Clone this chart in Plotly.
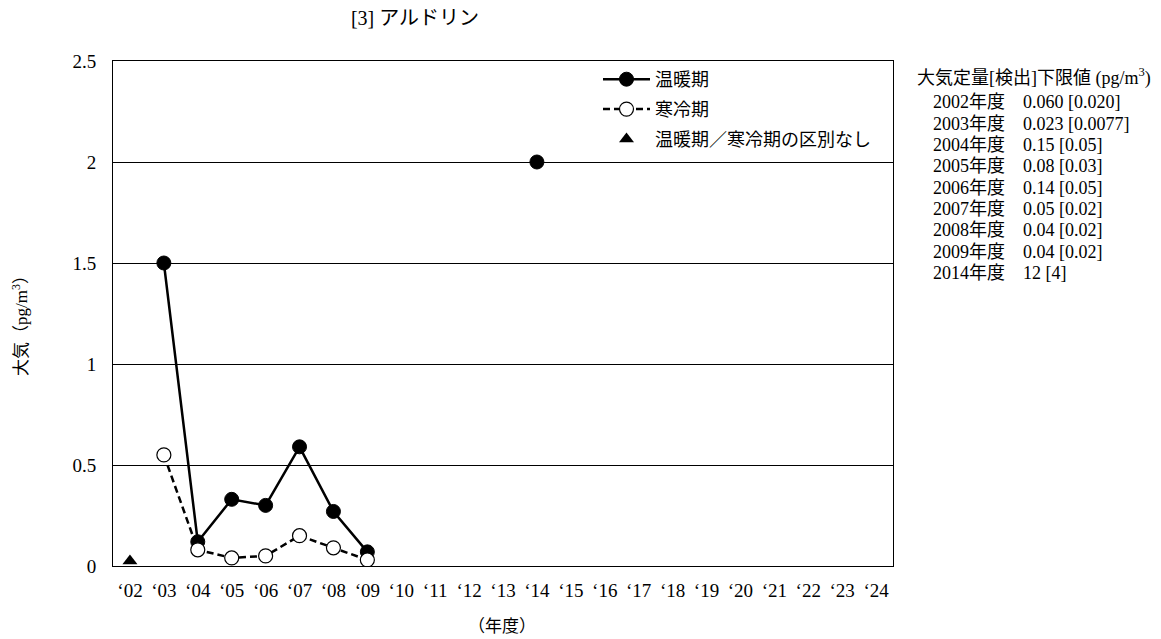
import plotly.graph_objects as go

categories = ["‘02", "‘03", "‘04", "‘05", "‘06", "‘07", "‘08", "‘09", "‘10", "‘11", "‘12",
              "‘13", "‘14", "‘15", "‘16", "‘17", "‘18", "‘19", "‘20", "‘21", "‘22", "‘23", "‘24"]

warm_x = ["‘03", "‘04", "‘05", "‘06", "‘07", "‘08", "‘09", "‘14"]
warm_y = [1.5, 0.12, 0.33, 0.30, 0.59, 0.27, 0.07, 2.0]

cold_x = ["‘03", "‘04", "‘05", "‘06", "‘07", "‘08", "‘09"]
cold_y = [0.55, 0.08, 0.04, 0.05, 0.15, 0.09, 0.03]

nodist_x = ["‘02"]
nodist_y = [0.025]

limit_header = "大気定量[検出]下限値 (pg/m<sup>3</sup>)"
limit_lines = [
    "2002年度　0.060 [0.020]",
    "2003年度　0.023 [0.0077]",
    "2004年度　0.15 [0.05]",
    "2005年度　0.08 [0.03]",
    "2006年度　0.14 [0.05]",
    "2007年度　0.05 [0.02]",
    "2008年度　0.04 [0.02]",
    "2009年度　0.04 [0.02]",
    "2014年度　12 [4]",
]

FONT = "Liberation Serif, Noto Sans CJK JP, serif"

# page body has an 8px margin: screen = figure + 8
PL, PT, PW, PH = 105, 53, 780, 505
W, H = 1161, 639


def py(screen_y):
    return (PT + PH + 8 - screen_y) / PH


def px(screen_x):
    return (screen_x - 8 - PL) / PW


fig = go.Figure()
fig.add_trace(go.Scatter(
    x=warm_x[:7], y=warm_y[:7], mode="lines+markers", name="温暖期",
    line=dict(color="black", width=2.5),
    marker=dict(symbol="circle", size=14, color="black", line=dict(color="black", width=1)),
    legendgroup="warm",
))
fig.add_trace(go.Scatter(
    x=warm_x[7:], y=warm_y[7:], mode="markers", name="温暖期", showlegend=False,
    marker=dict(symbol="circle", size=14, color="black", line=dict(color="black", width=1)),
    legendgroup="warm",
))
fig.add_trace(go.Scatter(
    x=cold_x, y=cold_y, mode="lines+markers", name="寒冷期",
    line=dict(color="black", width=2.5, dash="7px,4px"),
    marker=dict(symbol="circle", size=14, color="white", line=dict(color="black", width=1.2)),
    legendgroup="cold",
))
fig.add_trace(go.Scatter(
    x=nodist_x, y=nodist_y, mode="markers", name="温暖期／寒冷期の区別なし",
    marker=dict(symbol="triangle-up", size=13, color="black"),
    legendgroup="nd",
))

fig.update_layout(
    width=W, height=H,
    paper_bgcolor="white", plot_bgcolor="white",
    margin=dict(l=PL, r=W - PL - PW, t=PT, b=H - PT - PH),
    font=dict(family=FONT, size=18, color="black"),
    title=dict(text="[3] アルドリン", x=(415 - 8) / W, xanchor="center",
               y=1 - (18 - 8) / H, yanchor="middle",
               font=dict(size=20, family=FONT)),
    legend=dict(x=px(598), y=py(61), xanchor="left", yanchor="top", bgcolor="rgba(0,0,0,0)",
                font=dict(size=18, family=FONT), tracegroupgap=3.5, itemwidth=47),
    showlegend=True,
)
fig.update_xaxes(
    type="category", categoryorder="array", categoryarray=categories,
    range=[-0.5, len(categories) - 0.5],
    showline=True, linecolor="black", linewidth=1, mirror=True,
    showgrid=False, ticks="", tickfont=dict(size=19, family=FONT), ticklabelstandoff=7,
)
fig.update_yaxes(
    range=[0, 2.5], tickvals=[0, 0.5, 1, 1.5, 2, 2.5],
    ticktext=["0", "0.5", "1", "1.5", "2", "2.5"],
    showline=True, linecolor="black", linewidth=1, mirror=True,
    showgrid=True, gridcolor="black", gridwidth=1, zeroline=False,
    ticks="", tickfont=dict(size=19, family=FONT), ticklabelstandoff=12,
)

# axis titles
fig.add_annotation(text="大気（pg/m<sup>3</sup>）", xref="paper", yref="paper", x=px(20), y=py(322),
                   xanchor="center", yanchor="middle", textangle=-90, showarrow=False,
                   font=dict(size=17, family=FONT))
fig.add_annotation(text="（年度）", xref="paper", yref="paper", x=px(502), y=py(626),
                   xanchor="center", yanchor="middle", showarrow=False,
                   font=dict(size=17, family=FONT))

# detection limit notes
fig.add_annotation(text=limit_header, xref="paper", yref="paper", x=px(915), y=py(77),
                   xanchor="left", yanchor="middle", showarrow=False, font=dict(size=18, family=FONT))
for i, line in enumerate(limit_lines):
    fig.add_annotation(text=line, xref="paper", yref="paper", x=px(931),
                       y=py(102.5 + 21.3 * i),
                       xanchor="left", yanchor="middle", showarrow=False,
                       font=dict(size=18, family=FONT))

fig.write_html("out.html")
